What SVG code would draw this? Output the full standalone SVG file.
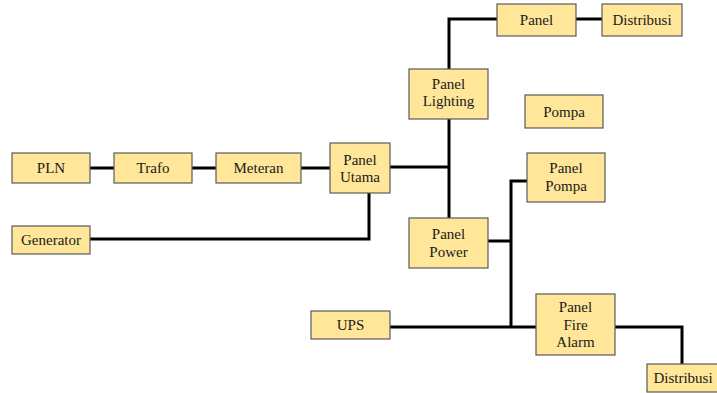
<svg xmlns="http://www.w3.org/2000/svg" width="717" height="393" viewBox="0 0 717 393">
<style>
.box{fill:#FFE699;stroke:#5a5a5a;stroke-width:1.2}
.t{font-size:15px;fill:#1a1a1a;text-anchor:middle;dominant-baseline:central}
.c{fill:none;stroke:#000;stroke-width:3}
</style>
<rect width="717" height="393" fill="#fff"/>
<g id="connectors">
<path class="c" d="M90 168H114M192 168H216M301 168H330"/>
<path class="c" d="M390 167H449"/>
<path class="c" d="M90 239H369V193"/>
<path class="c" d="M449 69V19H497M576 19H602"/>
<path class="c" d="M449 119V218"/>
<path class="c" d="M488 241H511M511 327V181H527"/>
<path class="c" d="M390 327H536M615 327H682V364"/>
</g>
<g font-family="Liberation Serif, Times New Roman, serif">
<g id="pln"><rect class="box" x="12" y="153" width="78" height="30"/><text class="t" x="51" y="168">PLN</text></g>
<g id="trafo"><rect class="box" x="114" y="153" width="78" height="30"/><text class="t" x="153" y="168">Trafo</text></g>
<g id="meteran"><rect class="box" x="216" y="153" width="85" height="30"/><text class="t" x="258.5" y="168">Meteran</text></g>
<g id="panel-utama"><rect class="box" x="330" y="143" width="60" height="50"/><text class="t" x="360" y="160">Panel</text><text class="t" x="360" y="177">Utama</text></g>
<g id="generator"><rect class="box" x="12" y="226" width="78" height="28"/><text class="t" x="51" y="240">Generator</text></g>
<g id="panel-top"><rect class="box" x="497" y="4" width="79" height="32"/><text class="t" x="536.5" y="20">Panel</text></g>
<g id="distribusi-top"><rect class="box" x="602" y="4" width="80" height="32"/><text class="t" x="642" y="20">Distribusi</text></g>
<g id="panel-lighting"><rect class="box" x="409" y="69" width="79" height="50"/><text class="t" x="448.5" y="84">Panel</text><text class="t" x="448.5" y="101">Lighting</text></g>
<g id="pompa"><rect class="box" x="525" y="95" width="78" height="33"/><text class="t" x="564" y="112">Pompa</text></g>
<g id="panel-pompa"><rect class="box" x="527" y="153" width="78" height="49"/><text class="t" x="566" y="168">Panel</text><text class="t" x="566" y="186">Pompa</text></g>
<g id="panel-power"><rect class="box" x="409" y="218" width="79" height="50"/><text class="t" x="448.5" y="234">Panel</text><text class="t" x="448.5" y="252">Power</text></g>
<g id="ups"><rect class="box" x="311" y="311" width="79" height="28"/><text class="t" x="350.5" y="325">UPS</text></g>
<g id="panel-fire-alarm"><rect class="box" x="536" y="294" width="79" height="61"/><text class="t" x="575.5" y="307">Panel</text><text class="t" x="575.5" y="325">Fire</text><text class="t" x="575.5" y="342">Alarm</text></g>
<g id="distribusi-bottom"><rect class="box" x="647" y="364" width="80" height="28"/><text class="t" x="683" y="378">Distribusi</text></g>
</g>
</svg>
